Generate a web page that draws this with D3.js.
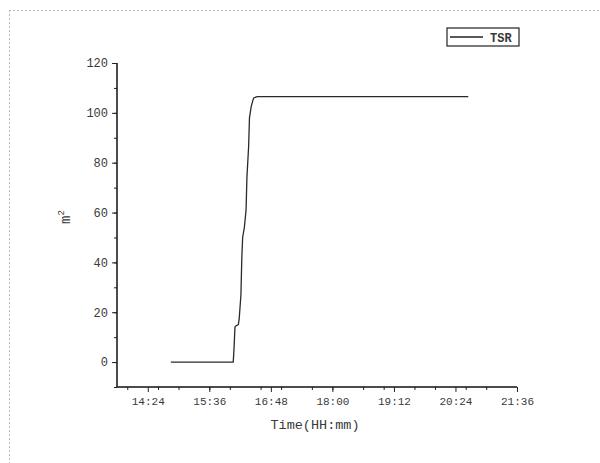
<!DOCTYPE html>
<html>
<head>
<meta charset="utf-8">
<script src="https://cdn.jsdelivr.net/npm/d3@7"></script>
<style>
  body { margin: 0; background: #fff; }
  svg text { font-family: "Liberation Mono", "DejaVu Sans Mono", monospace; fill: #3a3a3a; }
</style>
</head>
<body>
<div id="chart"></div>
<script>
// TSR series, time as HH:mm, value in m^2
const times = ["14:51", "16:04", "16:05", "16:06", "16:07", "16:10", "16:11", "16:13", "16:14", "16:15",
  "16:17", "16:19", "16:20", "16:22", "16:23", "16:25", "16:27", "16:28", "16:32", "20:39"]
const tsr = [0, 0, 6, 14, 14.5, 15, 17.5, 27, 41.5, 50, 54, 61, 74, 86.5, 98, 102.5, 105, 106, 106.5, 106.5]
const xTickLabels = ["14:24", "15:36", "16:48", "18:00", "19:12", "20:24", "21:36"]
const yTicks = [0, 20, 40, 60, 80, 100, 120]

const dims = { width: 600, height: 463, left: 117, right: 517, top: 63, bottom: 387 }

const parse = d3.timeParse("%H:%M")
const data = times.map((t, i) => ({ t: parse(t), v: tsr[i] }))

const svg = d3.select("#chart").append("svg")
  .attr("width", dims.width)
  .attr("height", dims.height)

// dotted frame of the page
svg.append("line").attr("x1", 9).attr("x2", 600).attr("y1", 10.5).attr("y2", 10.5)
  .attr("stroke", "#bbb").attr("stroke-dasharray", "2,2")
svg.append("line").attr("x1", 9.5).attr("x2", 9.5).attr("y1", 10).attr("y2", 463)
  .attr("stroke", "#bbb").attr("stroke-dasharray", "2,2")

const xScale = d3.scaleTime()
  .domain([parse("13:48"), parse("21:36")])
  .range([dims.left, dims.right])

const yScale = d3.scaleLinear()
  .domain([-10, 120])
  .range([dims.bottom, dims.top])

// minor ticks
const xMinor = d3.timeMinute.every(36).range(parse("13:48"), parse("21:37"))
svg.append("g")
  .attr("transform", `translate(0,${dims.bottom})`)
  .call(d3.axisBottom(xScale).tickValues(xMinor).tickSize(3).tickFormat(""))
  .call(g => g.select(".domain").remove())
  .selectAll("line").attr("stroke", "#222")

svg.append("g")
  .attr("transform", `translate(${dims.left},0)`)
  .call(d3.axisLeft(yScale).tickValues(d3.range(-10, 121, 10)).tickSize(3).tickFormat(""))
  .call(g => g.select(".domain").remove())
  .selectAll("line").attr("stroke", "#222")

// major ticks
const xAxis = svg.append("g")
  .attr("transform", `translate(0,${dims.bottom})`)
  .call(d3.axisBottom(xScale)
    .tickValues(xTickLabels.map(parse))
    .tickSize(5).tickSizeOuter(0).tickPadding(5)
    .tickFormat(d3.timeFormat("%H:%M")))
xAxis.select(".domain").attr("stroke", "#111").attr("stroke-width", 1.5)
  .attr("d", `M${dims.left},0H${dims.right}`)
xAxis.selectAll("line").attr("stroke", "#222")
xAxis.selectAll("text").attr("font-size", "11px")

const yAxis = svg.append("g")
  .attr("transform", `translate(${dims.left},0)`)
  .call(d3.axisLeft(yScale).tickValues(yTicks).tickSize(5).tickSizeOuter(0).tickPadding(4))
yAxis.select(".domain").attr("stroke", "#111").attr("stroke-width", 1.5)
  .attr("d", `M0,${dims.top}V${dims.bottom}`)
yAxis.selectAll("line").attr("stroke", "#222")
yAxis.selectAll("text").attr("font-size", "12px")

// series
const line = d3.line()
  .x(d => xScale(d.t))
  .y(d => yScale(d.v))

svg.append("path")
  .datum(data)
  .attr("fill", "none")
  .attr("stroke", "#2a2a2a")
  .attr("stroke-width", 1.3)
  .attr("d", line)

// axis titles
svg.append("text")
  .attr("x", 315)
  .attr("y", 429)
  .attr("text-anchor", "middle")
  .attr("font-size", "13.5px")
  .text("Time(HH:mm)")

svg.append("text")
  .attr("transform", "translate(70,217) rotate(-90)")
  .attr("text-anchor", "middle")
  .attr("font-size", "14px")
  .html("m<tspan dy='-6' font-size='9px'>2</tspan>")

// legend
const legend = svg.append("g").attr("transform", "translate(447,28)")
legend.append("rect")
  .attr("width", 72).attr("height", 18)
  .attr("fill", "#fff").attr("stroke", "#222").attr("stroke-width", 1.2)
legend.append("line")
  .attr("x1", 3).attr("x2", 36).attr("y1", 9).attr("y2", 9)
  .attr("stroke", "#222").attr("stroke-width", 1.4)
legend.append("text")
  .attr("x", 43).attr("y", 13.5)
  .attr("font-size", "12px")
  .attr("font-weight", "bold")
  .text("TSR")
</script>
</body>
</html>
